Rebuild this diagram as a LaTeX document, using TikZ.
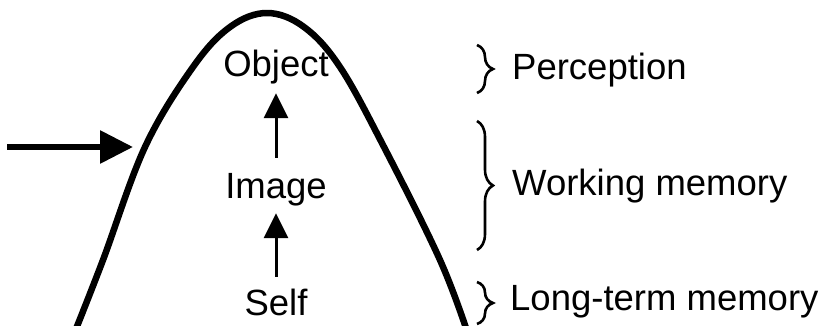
\documentclass[tikz,border=0pt]{standalone}
\usepackage{fontspec}
\setmainfont{Liberation Sans}
\usetikzlibrary{arrows.meta,decorations.pathreplacing}
\begin{document}
\begin{tikzpicture}[x=1pt,y=-1pt,
  word/.style={inner sep=0pt,font=\fontsize{36.5}{40}\selectfont,text height=26pt,text depth=8pt},
  upstep/.style={line width=3pt,-{Triangle[length=25pt,width=24pt]}},
  inflow/.style={line width=6pt,-{Triangle[length=33pt,width=32pt]}},
  curly/.style={line width=2.6pt,decorate,decoration={brace,amplitude=16pt,aspect=0.5}}]
\useasboundingbox (0,0) rectangle (822,326);
% bell-shaped boundary
\begin{scope}
\clip (0,0) rectangle (822,326);
\draw[line width=6.5pt,line join=round] plot[smooth,tension=0.6] coordinates
  {(74,334) (103,260) (145,147) (193,67) (230,27) (267,13) (304,27) (340,67) (384,147) (440,260) (468,334)};
\end{scope}
% levels inside the bell
\node[word,anchor=base] (object) at (276,77) {Object};
\node[word,anchor=base] (image) at (276,198) {Image};
\node[word,anchor=base] (self) at (276,315) {Self};
\draw[upstep,shorten <=14pt,shorten >=8pt] (image.north) -- (object.south);
\draw[upstep,shorten <=12pt,shorten >=7pt] (self.north) -- (image.south);
% incoming arrow
\coordinate (src) at (7,147);
\coordinate (hit) at (133,147);
\draw[inflow] (src) -- (hit);
% braces and their labels
\coordinate (p1) at (477,45);  \coordinate (p2) at (477,93);
\coordinate (w1) at (477,121); \coordinate (w2) at (477,250);
\coordinate (l1) at (477,282); \coordinate (l2) at (477,324);
\draw[curly] (p1) -- (p2);
\draw[curly] (w1) -- (w2);
\draw[curly] (l1) -- (l2);
\node[word,anchor=base west] (perc) at (512,80) {Perception};
\node[word,anchor=base west] (work) at (512,195) {Working memory};
\node[word,anchor=base west] (long) at (510,310) {Long-term memory};
\end{tikzpicture}
\end{document}
